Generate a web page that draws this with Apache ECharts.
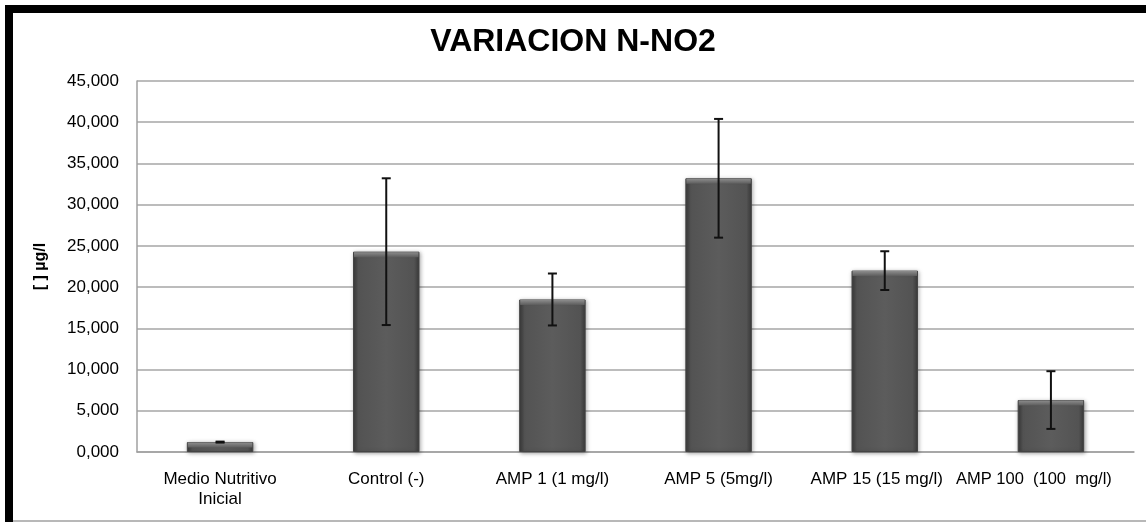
<!DOCTYPE html>
<html>
<head>
<meta charset="utf-8">
<script src="https://cdn.jsdelivr.net/npm/echarts@6/dist/echarts.min.js"></script>
<style>
html,body{margin:0;padding:0;background:#fff;}
#chart{width:1146px;height:522px;}
</style>
</head>
<body>
<div id="chart"></div>
<script>
var titleText = 'VARIACION N-NO2';
var yAxisName = '[ ] µg/l';
var categories = ['Medio Nutritivo\nInicial', 'Control (-)', 'AMP 1 (1 mg/l)', 'AMP 5 (5mg/l)', 'AMP 15 (15 mg/l)', 'AMP 100  (100  mg/l)'];
var values = [1200, 24300, 18500, 33200, 22000, 6300];
var errors = [60, 8900, 3150, 7200, 2350, 3500];
var yMin = 0, yMax = 45000, yStep = 5000;

function fmt(v){
  return (v/1000).toFixed(3).replace('.', ',');
}

var catItems = categories.map(function(c, i){
  if (i === categories.length - 1) {
    return {value: c, textStyle: {padding: [0, 34, 0, 0], fontSize: 16.5}};
  }
  if (i === categories.length - 2) {
    return {value: c, textStyle: {padding: [0, 16, 0, 0]}};
  }
  return c;
});

var chart = echarts.init(document.getElementById('chart'));
var errData = values.map(function(v, i){ return [i, v - errors[i], v + errors[i]]; });

chart.setOption({
  backgroundColor: '#ffffff',
  animation: false,
  title: {
    text: titleText,
    left: 'center',
    top: 21,
    textStyle: {fontFamily: 'Liberation Sans, Arial, sans-serif', fontSize: 32, fontWeight: 'bold', color: '#000'}
  },
  grid: {left: 137, right: 12, top: 81, bottom: 70, containLabel: false, outerBoundsMode: 'none'},
  xAxis: {
    type: 'category',
    data: catItems,
    axisLine: {show: true, lineStyle: {color: '#a0a0a0', width: 1.5}},
    axisTick: {show: false},
    axisLabel: {
      interval: 0,
      margin: 17,
      hideOverlap: false,
      fontFamily: 'Liberation Sans, Arial, sans-serif',
      fontSize: 17,
      lineHeight: 20,
      color: '#000'
    }
  },
  yAxis: {
    type: 'value',
    min: yMin, max: yMax, interval: yStep,
    name: yAxisName,
    nameLocation: 'middle',
    nameGap: 88,
    nameRotate: 90,
    nameTextStyle: {fontFamily: 'Liberation Sans, Arial, sans-serif', fontSize: 16, fontWeight: 'bold', color: '#000'},
    axisLine: {show: true, lineStyle: {color: '#a0a0a0', width: 1.5}},
    axisTick: {show: false},
    splitLine: {show: true, lineStyle: {color: '#a6a6a6', width: 1.5}},
    axisLabel: {
      margin: 18,
      fontFamily: 'Liberation Sans, Arial, sans-serif',
      fontSize: 17,
      color: '#000',
      formatter: function(v){ return fmt(v); }
    }
  },
  series: [
    {
      type: 'bar',
      data: values,
      barWidth: '40%',
      itemStyle: {
        color: new echarts.graphic.LinearGradient(0, 0, 1, 0, [
          {offset: 0, color: '#3a3a3a'},
          {offset: 0.08, color: '#535353'},
          {offset: 0.5, color: '#5c5c5c'},
          {offset: 0.92, color: '#535353'},
          {offset: 1, color: '#3a3a3a'}
        ]),
        borderColor: '#444444',
        borderWidth: 1,
        shadowColor: 'rgba(0,0,0,0.35)',
        shadowBlur: 4,
        shadowOffsetX: 1,
        shadowOffsetY: 1
      },
      z: 2
    },
    {
      type: 'custom',
      data: errData,
      z: 5,
      renderItem: function(params, api){
        var x = api.value(0);
        var lo = api.coord([x, api.value(1)]);
        var hi = api.coord([x, api.value(2)]);
        var top = api.coord([x, values[x]]);
        var half = 4.5;
        var bw = api.size([1, 0])[0] * 0.4;
        return {
          type: 'group',
          children: [
            {type: 'rect', shape: {x: top[0] - bw/2 + 1, y: top[1] + 0.5, width: bw - 2, height: 5}, style: {fill: new echarts.graphic.LinearGradient(0,0,0,1,[{offset:0,color:'#8c8c8c'},{offset:1,color:'#5c5c5c'}])}},
            {type: 'line', shape: {x1: lo[0], y1: lo[1], x2: hi[0], y2: hi[1]}, style: {stroke: '#111', lineWidth: 2}},
            {type: 'line', shape: {x1: lo[0]-half, y1: lo[1], x2: lo[0]+half, y2: lo[1]}, style: {stroke: '#111', lineWidth: 2}},
            {type: 'line', shape: {x1: hi[0]-half, y1: hi[1], x2: hi[0]+half, y2: hi[1]}, style: {stroke: '#111', lineWidth: 2}}
          ]
        };
      }
    }
  ],
  graphic: [
    {type: 'rect', shape: {x: 5, y: 5, width: 1141, height: 8}, style: {fill: '#000'}, z: 100},
    {type: 'rect', shape: {x: 5, y: 5, width: 8, height: 517}, style: {fill: '#000'}, z: 100},
    {type: 'line', shape: {x1: 13, y1: 521, x2: 1146, y2: 521}, style: {stroke: '#a0a0a0', lineWidth: 1.5}, z: 100}
  ]
});
</script>
</body>
</html>
